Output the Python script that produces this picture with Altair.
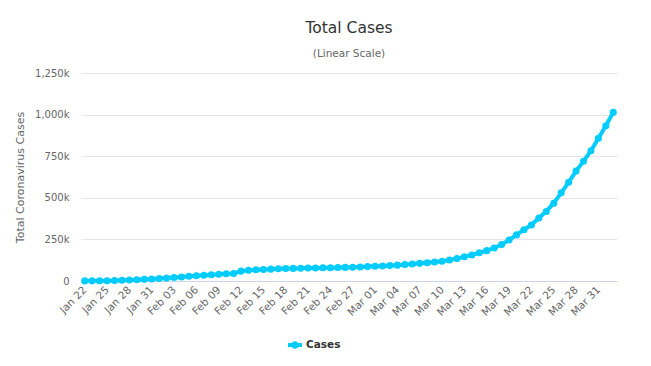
import altair as alt
import pandas as pd

dates = [
    "Jan 22", "Jan 23", "Jan 24", "Jan 25", "Jan 26", "Jan 27", "Jan 28", "Jan 29", "Jan 30", "Jan 31",
    "Feb 01", "Feb 02", "Feb 03", "Feb 04", "Feb 05", "Feb 06", "Feb 07", "Feb 08", "Feb 09", "Feb 10",
    "Feb 11", "Feb 12", "Feb 13", "Feb 14", "Feb 15", "Feb 16", "Feb 17", "Feb 18", "Feb 19", "Feb 20",
    "Feb 21", "Feb 22", "Feb 23", "Feb 24", "Feb 25", "Feb 26", "Feb 27", "Feb 28", "Feb 29",
    "Mar 01", "Mar 02", "Mar 03", "Mar 04", "Mar 05", "Mar 06", "Mar 07", "Mar 08", "Mar 09", "Mar 10",
    "Mar 11", "Mar 12", "Mar 13", "Mar 14", "Mar 15", "Mar 16", "Mar 17", "Mar 18", "Mar 19", "Mar 20",
    "Mar 21", "Mar 22", "Mar 23", "Mar 24", "Mar 25", "Mar 26", "Mar 27", "Mar 28", "Mar 29", "Mar 30",
    "Mar 31", "Apr 01", "Apr 02",
]

cases = [
    580, 845, 1317, 2015, 2800, 4581, 6058, 7813, 9823, 11950,
    14553, 17391, 20630, 24545, 28266, 31439, 34876, 37552, 40553, 43099,
    45134, 59287, 64438, 67100, 69197, 71329, 73332, 75184, 75700, 76677,
    77673, 78651, 79205, 80087, 80828, 81820, 83112, 84615, 86604,
    88585, 90443, 93016, 95314, 98425, 102050, 106099, 109991, 114381, 118948,
    126214, 134576, 145483, 156653, 169593, 182490, 198238, 218822, 246088, 277022,
    308276, 336953, 378529, 418022, 467761, 529736, 593266, 660799, 720117, 782389,
    857487, 932605, 1013466,
]

tick_labels = dates[0:70:3]
y_ticks = [0, 250000, 500000, 750000, 1000000, 1250000]
series_name = ["Cases"] * len(dates)

df = pd.DataFrame({"date": dates, "cases": cases, "series": series_name})

FONT = "DejaVu Sans"
COLOR = "#00ccff"

x = alt.X(
    "date:O",
    sort=dates,
    scale=alt.Scale(type="point", padding=0.5),
    axis=alt.Axis(
        title=None,
        values=tick_labels,
        labelAngle=-45,
        labelAlign="right",
        labelBaseline="middle",
        labelPadding=7,
        ticks=False,
        domainColor="#ccd6eb",
        grid=False,
        labelColor="#666666",
        labelFontSize=10.5,
    ),
)
y = alt.Y(
    "cases:Q",
    scale=alt.Scale(domain=[0, 1250000], nice=False),
    axis=alt.Axis(
        title="Total Coronavirus Cases",
        values=y_ticks,
        labelExpr="datum.value == 0 ? '0' : format(datum.value / 1000, ',') + 'k'",
        domain=False,
        ticks=False,
        gridColor="#e6e6e6",
        labelColor="#666666",
        labelFontSize=10,
        labelPadding=12,
        titleColor="#666666",
        titleFontSize=11,
        titleFontWeight="normal",
        titlePadding=9,
    ),
)
color = alt.Color(
    "series:N",
    scale=alt.Scale(range=[COLOR]),
    legend=alt.Legend(
        title=None,
        orient="none",
        legendX=207,
        legendY=265,
        symbolType="M-1,-0.27 L1,-0.27 L1,0.27 L-1,0.27 Z M-0.55,0 A0.55,0.55 0 1,1 0.55,0 A0.55,0.55 0 1,1 -0.55,0 Z",
        symbolSize=196,
        symbolFillColor=COLOR,
        symbolStrokeWidth=0,
        labelFontSize=10.5,
        labelFontWeight="bold",
        labelColor="#333333",
    ),
)

base = alt.Chart(df).encode(x=x, y=y, color=color)
line = base.mark_line(strokeWidth=4)
pts = base.mark_point(filled=True, size=50, opacity=1)

chart = (
    alt.layer(line, pts)
    .properties(
        width=536,
        height=208,
        padding={"left": 6, "top": 13, "right": 5, "bottom": 5},
        title=alt.TitleParams(
            text="Total Cases",
            subtitle="(Linear Scale)",
            fontSize=15.5,
            fontWeight="normal",
            color="#333333",
            subtitleFontSize=10.5,
            subtitleColor="#666666",
            subtitlePadding=12,
            offset=9,
            anchor="middle",
            frame="group",
        ),
    )
    .configure(font=FONT)
    .configure_view(stroke=None)
)

chart.save("out.html", embed_options={"renderer": "svg", "actions": False})
